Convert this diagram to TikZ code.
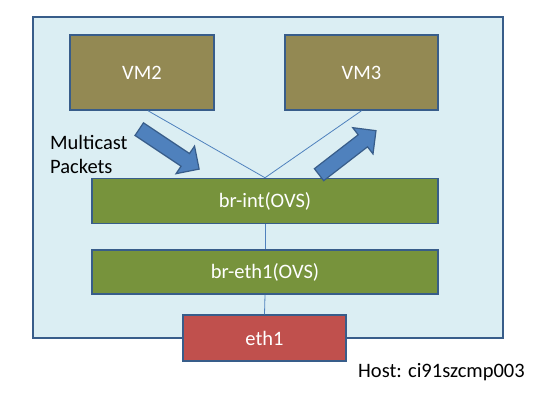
\documentclass[tikz,border=0pt]{standalone}
\usepackage{fontspec}
\setmainfont{Carlito}
\usetikzlibrary{shapes.arrows}

\definecolor{hostfill}{HTML}{DBEEF3}
\definecolor{edgeblue}{HTML}{385D8A}
\definecolor{linkblue}{HTML}{4F81BD}
\definecolor{vmfill}{HTML}{938953}
\definecolor{brfill}{HTML}{77933C}
\definecolor{nicfill}{HTML}{C0504D}

\begin{document}
\begin{tikzpicture}[x=1pt,y=1pt,font=\fontsize{20.5}{24}\selectfont,
  box/.style={draw=edgeblue,line width=1.5pt,inner sep=0pt,text=white},
  vmbox/.style={box,fill=vmfill,minimum width=144pt,minimum height=75pt},
  brbox/.style={box,fill=brfill,minimum width=346pt,minimum height=45pt},
  link/.style={draw=linkblue,line width=0.8pt},
  flow/.style={single arrow,draw=edgeblue,fill=linkblue,line width=1.2pt,
    text height=0pt,text depth=0pt,inner xsep=0pt,inner ysep=7pt,
    minimum width=31pt,single arrow head extend=9pt,minimum height=72pt}]
  \useasboundingbox (0,0) rectangle (556,408);
  % host
  \draw[draw=edgeblue,fill=hostfill,line width=1.5pt] (33,70) rectangle (503,391);
  % guests
  \node[vmbox] (vm2) at (142,335.5) {VM2};
  \node[vmbox,minimum width=153pt] (vm3) at (361.5,335.5) {VM3};
  % bridges
  \node[brbox] (brint) at (265,207) {br-int(OVS)};
  \node[brbox,minimum height=44pt] (breth) at (265,136) {br-eth1(OVS)};
  \node[box,fill=nicfill,minimum width=163pt,minimum height=46pt] (eth) at (264.5,70) {eth1};
  % links
  \draw[link] ([xshift=6pt]vm2.south) -- (brint.north);
  \draw[link] (vm3.south) -- (brint.north);
  \draw[link] (brint.south) -- (breth.north);
  \draw[link] (breth.south) -- (eth.north);
  % multicast flow
  \node[flow,rotate=-33.7] (inflow) at (166,261) {};
  \node[flow,rotate=37.7] (outflow) at (344.5,253) {};
  \node[anchor=west,align=left,inner sep=0pt] (mcast) at (50,254) {Multicast\\Packets};
  \node[anchor=west,inner sep=0pt] (host) at (358,36) {Host: ci91szcmp003};
\end{tikzpicture}
\end{document}
